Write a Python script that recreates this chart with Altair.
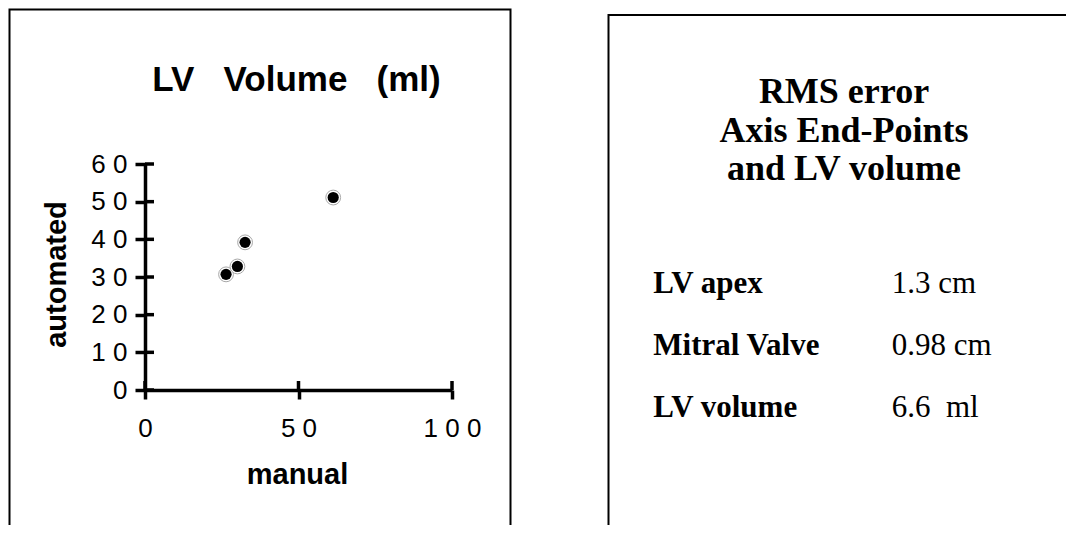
import altair as alt
import pandas as pd

# ---- data ----
manual = [26.4, 30.1, 32.6, 61.3]
automated = [30.7, 32.8, 39.2, 51.1]
x_ticks = [0, 50, 100]
y_ticks = [0, 10, 20, 30, 40, 50, 60]
chart_title = "LV\u00a0\u00a0\u00a0Volume\u00a0\u00a0\u00a0(ml)"
x_title = "manual"
y_title = "automated"
panel_title = ["RMS error", "Axis End-Points", "and LV volume"]
row_labels = ["LV apex", "Mitral Valve", "LV volume"]
row_values = ["1.3 cm", "0.98 cm", "\u00a06.6\u00a0\u00a0ml"]

W, H = 307, 226
SANS = "Liberation Sans"
SERIF = "Liberation Serif"
LW = 3.5

pts = pd.DataFrame({"manual": manual, "automated": automated})
xt = pd.DataFrame({"manual": x_ticks})
yt = pd.DataFrame({"automated": y_ticks})
one = pd.DataFrame({"k": [0]})

xs = alt.Scale(domain=[0, 100], nice=False, zero=True)
ys = alt.Scale(domain=[0, 60], nice=False, zero=True)

spaced = "join(split(datum.label, ''), '\u00a0')"

x_axis = alt.Axis(
    values=x_ticks, grid=False, domainColor="black", domainWidth=LW,
    tickColor="black", tickWidth=LW, tickSize=9,
    labelFont=SANS, labelFontSize=26, labelColor="black", labelPadding=16,
    labelFlush=False, labelOverlap=False, labelExpr=spaced,
    title=x_title, titleFont=SANS, titleFontSize=29, titleFontWeight="bold",
    titleColor="black", titleX=152, titleY=93, titleAlign="center",
    titleBaseline="alphabetic",
)
y_axis = alt.Axis(
    values=y_ticks, grid=False, domainColor="black", domainWidth=LW,
    tickColor="black", tickWidth=LW, tickSize=10,
    labelFont=SANS, labelFontSize=26, labelColor="black", labelPadding=8,
    labelOverlap=False, labelExpr=spaced,
    title=y_title, titleFont=SANS, titleFontSize=29, titleFontWeight="bold",
    titleColor="black", titleX=-80, titleY=110, titleAngle=270,
    titleAlign="center", titleBaseline="alphabetic",
)

ring = alt.Chart(pts).mark_circle(
    size=220, color="white", stroke="#a8a8a8", strokeWidth=1, opacity=1
).encode(
    x=alt.X("manual:Q", scale=xs, axis=x_axis),
    y=alt.Y("automated:Q", scale=ys, axis=y_axis),
)
dots = alt.Chart(pts).mark_circle(size=125, color="black", opacity=1).encode(
    x=alt.X("manual:Q", scale=xs, axis=x_axis),
    y=alt.Y("automated:Q", scale=ys, axis=y_axis),
)

# inner half of the crossing ticks
ytick_in = alt.Chart(yt).mark_rule(color="black", strokeWidth=LW).encode(
    y=alt.Y("automated:Q", scale=ys, axis=y_axis),
    x=alt.value(0),
    x2=alt.value(9),
)
xtick_in = alt.Chart(xt).mark_rule(color="black", strokeWidth=LW).encode(
    x=alt.X("manual:Q", scale=xs, axis=x_axis),
    y=alt.value(H),
    y2=alt.value(H - 9),
)

# panel frames
left_box = alt.Chart(one).mark_rect(
    fill="transparent", stroke="black", strokeWidth=2
).encode(x=alt.value(-135.5), x2=alt.value(365.5), y=alt.value(-154.5), y2=alt.value(420))
right_box = alt.Chart(one).mark_rect(
    fill="transparent", stroke="black", strokeWidth=2
).encode(x=alt.value(463.5), x2=alt.value(1000), y=alt.value(-149), y2=alt.value(420))

title_txt = alt.Chart(one).mark_text(
    font=SANS, fontSize=35, fontWeight="bold", align="center",
    baseline="alphabetic", color="black",
).encode(x=alt.value(151.5), y=alt.value(-73), text=alt.value(chart_title))

panel_txt = alt.Chart(one).mark_text(
    font=SERIF, fontSize=36, fontWeight="bold", align="center",
    baseline="top", lineHeight=38.5, color="black",
).encode(x=alt.value(699), y=alt.value(-89), text=alt.value(panel_title))

labels_txt = alt.Chart(one).mark_text(
    font=SERIF, fontSize=31, fontWeight="bold", align="left",
    baseline="top", lineHeight=61.7, color="black",
).encode(x=alt.value(508.3), y=alt.value(105.3), text=alt.value(row_labels))

values_txt = alt.Chart(one).mark_text(
    font=SERIF, fontSize=31, align="left",
    baseline="top", lineHeight=61.7, color="black",
).encode(x=alt.value(746.7), y=alt.value(105.3), text=alt.value(row_values))

chart = alt.layer(
    left_box, right_box, ring, dots, ytick_in, xtick_in,
    title_txt, panel_txt, labels_txt, values_txt,
).properties(
    width=W, height=H,
    autosize=alt.AutoSizeParams(type="none"),
    padding={"left": 137, "top": 156, "right": 614, "bottom": 135},
    background="white",
).configure_view(strokeWidth=0).configure_axis(labelOverlap=False)

chart.save("out.html", embed_options={"renderer": "svg", "actions": False})
